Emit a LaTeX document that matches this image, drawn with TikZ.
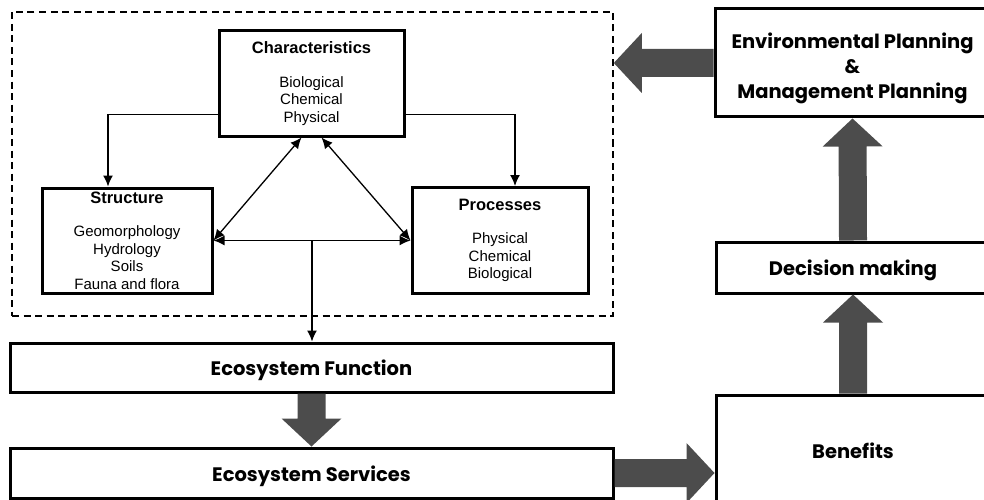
\documentclass[tikz,border=0pt]{standalone}
\usepackage{fontspec}
\setmainfont{Liberation Sans}
\newfontfamily\headfont{Poppins}
\usetikzlibrary{arrows.meta,calc}

\definecolor{arrowgray}{gray}{0.3}

\tikzset{
  frame/.style={draw, line width=3pt, fill=white, inner sep=0pt},
  bigbox/.style={frame, font=\headfont\bfseries\fontsize{19.5}{25}\selectfont, align=center,
    text height=21pt, text depth=5pt},
  bigtext/.style={font=\headfont\bfseries\fontsize{19.5}{25}\selectfont, align=center, inner sep=0pt},
  smallbox/.style={frame, font=\fontsize{15}{17.5}\selectfont, align=center},
  groupbox/.style={draw, line width=1.6pt, dash pattern=on 7pt off 4.5pt, inner sep=0pt},
  conn/.style={line width=1.3pt, -{Latex[length=11pt,width=10pt]}},
  biconn/.style={line width=1.3pt, {Latex[length=11pt,width=10pt]}-{Latex[length=11pt,width=10pt]}},
  fatfill/.style={fill=arrowgray, draw=none},
}

% broad block arrow from #1 to #2: shaft 28pt wide, head 60pt wide and 28pt long
\newcommand\fatarrow[2]{%
  \coordinate (fa-h) at ($(#2)!28pt!(#1)$);
  \fill[fatfill] ($(#1)!14pt!90:(#2)$) -- ($(fa-h)!14pt!90:(#2)$)
    -- ($(fa-h)!30pt!90:(#2)$) -- (#2) -- ($(fa-h)!30pt!-90:(#2)$)
    -- ($(fa-h)!14pt!-90:(#2)$) -- ($(#1)!14pt!-90:(#2)$) -- cycle;}

\newcommand\boxtitle[1]{{\bfseries\fontsize{16.5}{17.5}\selectfont #1}}

\begin{document}
\begin{tikzpicture}[x=1pt,y=-1pt]
\useasboundingbox (0,0) rectangle (984,500);
\clip (0,0) rectangle (984,500);

% dashed frame around the ecosystem components
\node[groupbox, minimum width=601pt, minimum height=304pt] (grp) at (312.5,164) {};

% components
\node[smallbox, minimum width=185pt, minimum height=105pt] (char) at (311.5,83.5)
  {\boxtitle{Characteristics}\\[16pt]Biological\\Chemical\\Physical};
\node[smallbox, minimum width=170pt, minimum height=105pt] (str) at (127,240.5)
  {\boxtitle{Structure}\\[16pt]Geomorphology\\Hydrology\\Soils\\Fauna and flora};
\node[smallbox, minimum width=176pt, minimum height=106pt] (proc) at (500,240.5)
  {\boxtitle{Processes}\\[16pt]Physical\\Chemical\\Biological};

% main chain
\node[bigbox, minimum width=603pt, minimum height=49pt] (ef) at (311.5,367.5) {Ecosystem Function};
\node[bigbox, minimum width=603pt, minimum height=50pt] (es) at (311.5,473) {Ecosystem Services};
\node[frame, minimum width=274pt, minimum height=115pt] (ben) at (853,452.5) {};
\node[bigtext] (bentext) at ([yshift=2pt]ben.center) {Benefits};
\node[bigbox, minimum width=274pt, minimum height=51pt] (dec) at (853,267.5) {Decision making};
\node[frame, minimum width=275pt, minimum height=108pt] (env) at (852.5,63) {};
\node[bigtext] (envtext) at ([yshift=-5pt]env.center)
  {Environmental Planning\\\&\\Management Planning};

% links inside the frame
\draw[conn] ([yshift=-31pt]char.west) -| ([xshift=-19pt]str.north);
\draw[conn] ([yshift=-31pt]char.east) -| ([xshift=15pt]proc.north);
\draw[biconn] ([xshift=-10pt]char.south) -- (str.east);
\draw[biconn] ([xshift=10pt]char.south) -- (proc.west);
\draw[biconn] (str.east) -- (proc.west);
\coordinate (mid) at ($(str.east)!0.5!(proc.west)$);
\draw[conn] (mid) -- (mid |- ef.north);

% block arrows
\fatarrow{ef.south}{es.north}
\fatarrow{es.east}{ben.west |- es.east}
\fatarrow{ben.north}{dec.south}
\fatarrow{dec.north}{env.south}
\fatarrow{env.west}{grp.east |- env.west}
\end{tikzpicture}
\end{document}
